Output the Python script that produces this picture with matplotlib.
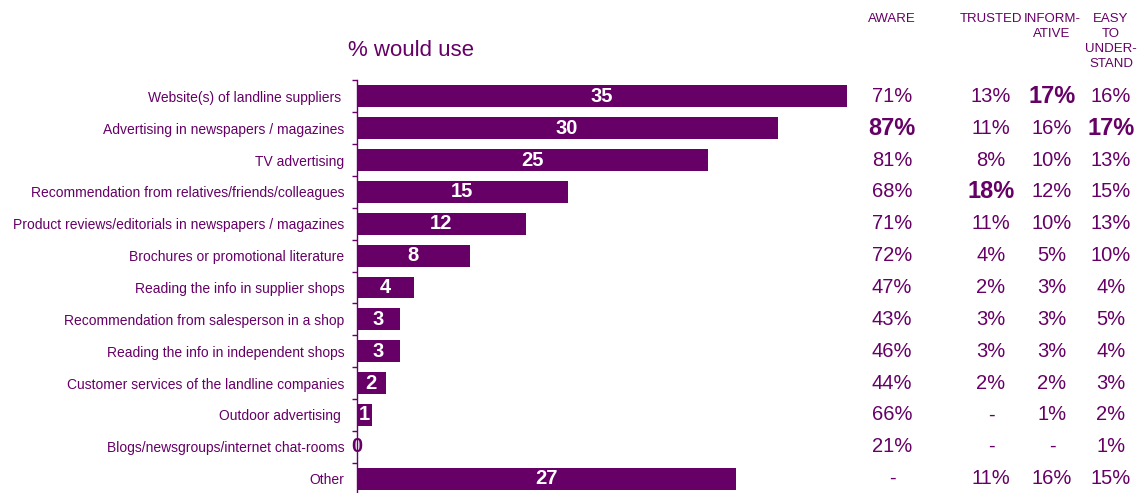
import matplotlib
matplotlib.use("Agg")
import matplotlib.pyplot as plt
from matplotlib.transforms import blended_transform_factory

plt.rcParams['font.family'] = ['Liberation Sans', 'DejaVu Sans']

PURPLE = "#660066"

categories = [
    "Website(s) of landline suppliers ",
    "Advertising in newspapers / magazines",
    "TV advertising",
    "Recommendation from relatives/friends/colleagues",
    "Product reviews/editorials in newspapers / magazines",
    "Brochures or promotional literature",
    "Reading the info in supplier shops",
    "Recommendation from salesperson in a shop",
    "Reading the info in independent shops",
    "Customer services of the landline companies",
    "Outdoor advertising ",
    "Blogs/newsgroups/internet chat-rooms",
    "Other",
]
would_use = [35, 30, 25, 15, 12, 8, 4, 3, 3, 2, 1, 0, 27]

column_headers = ["AWARE", "TRUSTED", "INFORM-\nATIVE", "EASY\nTO\nUNDER-\nSTAND"]
aware       = [71, 87, 81, 68, 71, 72, 47, 43, 46, 44, 66, 21, None]
trusted     = [13, 11, 8, 18, 11, 4, 2, 3, 3, 2, None, None, 11]
informative = [17, 16, 10, 12, 10, 5, 3, 3, 3, 2, 1, None, 16]
easy        = [16, 17, 13, 15, 13, 10, 4, 5, 4, 3, 2, 1, 15]
# (column index, row index) of the highlighted figures
highlights = {(0, 1), (1, 3), (2, 0), (3, 1)}

W, H = 1141, 493
fig = plt.figure(figsize=(W / 100, H / 100), dpi=100)
ax = fig.add_axes([357 / W, -1.5 / H, 490 / W, 414 / H])

n = len(categories)
ys = list(range(n))
ax.barh(ys, would_use, height=0.69, color=PURPLE, left=0.05)
ax.set_xlim(0, 35)
ax.set_ylim(n - 0.5, -0.5)

for y, v in zip(ys, would_use):
    if v > 0:
        ax.text(v / 2, y, str(v), ha="center", va="center", color="white",
                fontsize=14.5, fontweight="bold")
    else:
        ax.text(0, y, str(v), ha="center", va="center", color=PURPLE,
                fontsize=14.5, fontweight="bold", clip_on=False)

for s in ["top", "right", "bottom"]:
    ax.spines[s].set_visible(False)
ax.spines["left"].set_color(PURPLE)
ax.spines["left"].set_linewidth(1.0)
ax.set_xticks([])
ax.set_yticks(ys)
ax.set_yticklabels(categories, fontsize=10, color=PURPLE)
ax.tick_params(axis="y", which="major", length=0, pad=9)
ax.set_yticks([i + 0.5 for i in range(-1, n)], minor=True)
ax.tick_params(axis="y", which="minor", length=3.5, color=PURPLE, width=1.0,
               direction="out")

fig.text(348 / W, 1 - 51 / H, "% would use", color=PURPLE, fontsize=16,
         ha="left", va="center")

col_x = [892, 991, 1052, 1111]
tr = blended_transform_factory(fig.transFigure, ax.transData)
for ci, (hdr, vals) in enumerate(zip(column_headers,
                                     [aware, trusted, informative, easy])):
    fig.text(col_x[ci] / W, 1 - 13 / H, hdr, color=PURPLE, fontsize=9.5,
             ha="center", va="top", linespacing=1.32, multialignment="center")
    for ri, v in enumerate(vals):
        label = "-" if v is None else f"{v}%"
        bold = (ci, ri) in highlights
        ax.text(col_x[ci] / W, ri, label, transform=tr, ha="center",
                va="center", color=PURPLE, clip_on=False,
                fontsize=17 if bold else 14.5,
                fontweight="bold" if bold else "normal")

fig.savefig("out.png", dpi=100)
